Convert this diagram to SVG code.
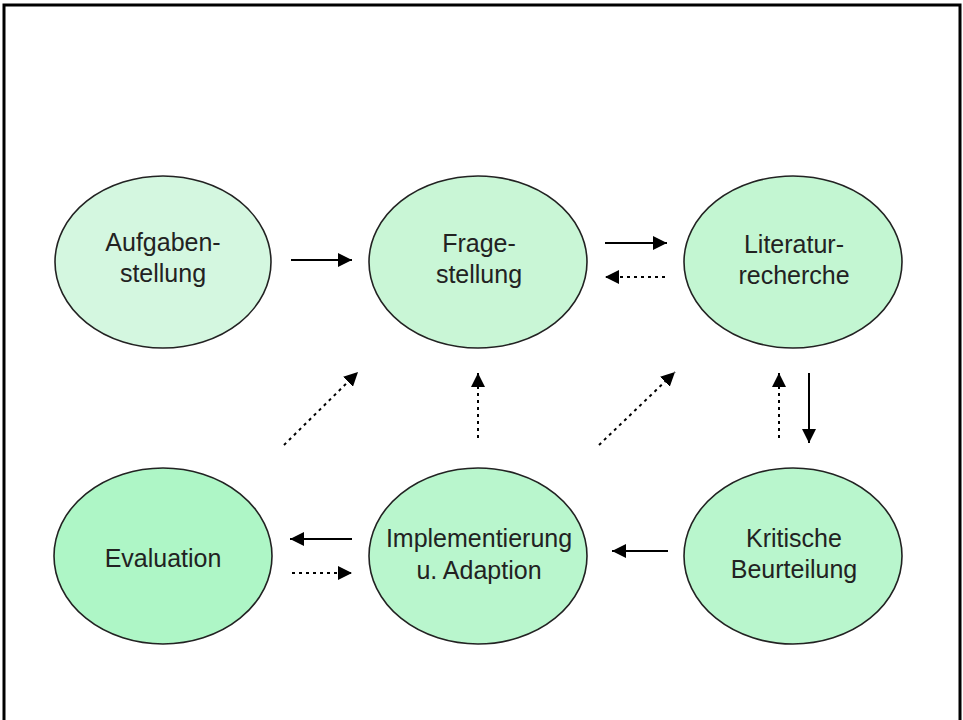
<svg xmlns="http://www.w3.org/2000/svg" width="963" height="720" viewBox="0 0 963 720">
<defs>
<marker id="ah" viewBox="0 0 10 10" refX="10" refY="5" markerWidth="7" markerHeight="7" markerUnits="strokeWidth" orient="auto">
<path d="M0,0 L10,5 L0,10 Z" fill="#000"/>
</marker>
<style>
.node{stroke:#222;stroke-width:1.6}
.lbl{font-family:"Liberation Sans",Arial,sans-serif;font-size:25px;fill:#222;text-anchor:middle}
.solid{stroke:#000;stroke-width:2;fill:none;marker-end:url(#ah)}
.dot{stroke:#000;stroke-width:2;fill:none;stroke-dasharray:3 4;marker-end:url(#ah)}
</style>
</defs>
<rect x="0" y="0" width="963" height="720" fill="#fff"/>
<path d="M4,730 V5 H960 V730" fill="none" stroke="#000" stroke-width="3"/>
<g id="aufgabenstellung">
<ellipse class="node" cx="163" cy="262" rx="108" ry="86" fill="#d4f7e0"/>
<text class="lbl" x="163" y="251">Aufgaben-</text>
<text class="lbl" x="163" y="282">stellung</text>
</g>
<g id="fragestellung">
<ellipse class="node" cx="478" cy="262" rx="109" ry="86" fill="#c9f6d6"/>
<text class="lbl" x="479" y="252">Frage-</text>
<text class="lbl" x="479" y="283">stellung</text>
</g>
<g id="literaturrecherche">
<ellipse class="node" cx="793" cy="262" rx="109" ry="86" fill="#c3f6d2"/>
<text class="lbl" x="794" y="253">Literatur-</text>
<text class="lbl" x="794" y="284">recherche</text>
</g>
<g id="evaluation">
<ellipse class="node" cx="163" cy="556" rx="109" ry="88" fill="#aef6c6"/>
<text class="lbl" x="163" y="567">Evaluation</text>
</g>
<g id="implementierung">
<ellipse class="node" cx="478" cy="556" rx="109" ry="88" fill="#b9f6cd"/>
<text class="lbl" x="479" y="547">Implementierung</text>
<text class="lbl" x="479" y="579">u. Adaption</text>
</g>
<g id="kritische">
<ellipse class="node" cx="793" cy="556" rx="109" ry="88" fill="#b9f6cd"/>
<text class="lbl" x="794" y="547">Kritische</text>
<text class="lbl" x="794" y="578">Beurteilung</text>
</g>
<g id="connectors">
<line class="solid" x1="291" y1="260" x2="352" y2="260"/>
<line class="solid" x1="605" y1="243" x2="667" y2="243"/>
<line class="dot" x1="665" y1="277" x2="605" y2="277"/>
<line class="dot" x1="284" y1="445" x2="358" y2="372"/>
<line class="dot" x1="478" y1="438" x2="478" y2="373"/>
<line class="dot" x1="599" y1="445" x2="675" y2="372"/>
<line class="dot" x1="779" y1="438" x2="779" y2="373"/>
<line class="solid" x1="809" y1="373" x2="809" y2="443"/>
<line class="solid" x1="668" y1="551" x2="612" y2="551"/>
<line class="solid" x1="352" y1="539" x2="290" y2="539"/>
<line class="dot" x1="292" y1="573" x2="352" y2="573"/>
</g>
</svg>
